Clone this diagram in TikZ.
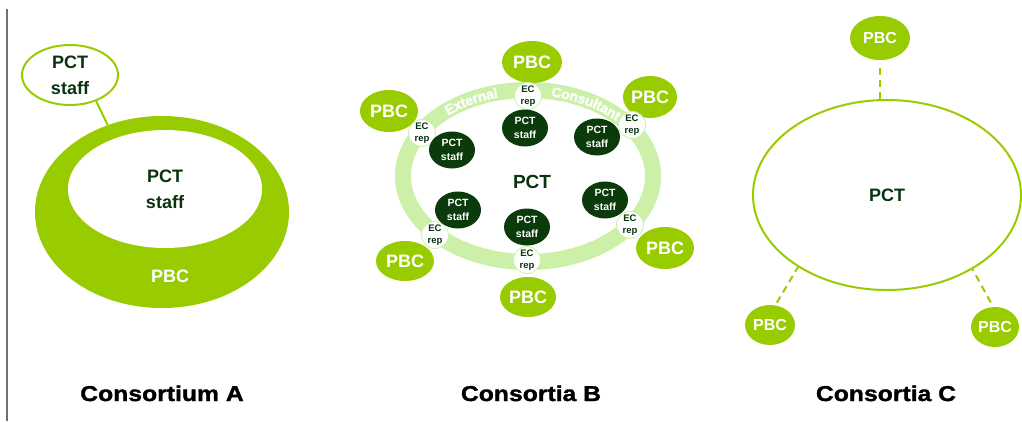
\documentclass[tikz,border=0pt]{standalone}
\usepackage{fontspec}
\setmainfont{Liberation Sans}
\newfontface\headfont[FakeBold=1.5,FakeStretch=1.15]{Liberation Sans Bold}
\newfontface\ringfont[FakeBold=1.2]{Liberation Sans Bold}
\usepackage{tikz}
\usetikzlibrary{positioning,shapes.geometric,calc,decorations.text}
\definecolor{green1}{HTML}{99CC00}
\definecolor{lime1}{HTML}{CCF0A8}
\definecolor{dark1}{HTML}{0B3A0B}
\definecolor{ink1}{HTML}{0A3310}
\definecolor{rule1}{HTML}{707070}

\begin{document}
\begin{tikzpicture}[
    x=1pt, y=-1pt,
    bubble/.style={ellipse, inner sep=0pt, fill=green1, text=white,
                   font=\bfseries\fontsize{18}{20}\selectfont},
    staffnode/.style={ellipse, inner sep=0pt, fill=dark1, text=white,
                      minimum width=46pt, minimum height=37pt, align=center,
                      font=\bfseries\fontsize{10.5}{13.5}\selectfont},
    ecrep/.style={circle, inner sep=0pt, minimum size=27pt, fill=white,
                  draw=lime1, line width=0.8pt, text=ink1, align=center,
                  font=\bfseries\fontsize{9.5}{11.5}\selectfont},
    outline/.style={ellipse, inner sep=0pt, draw=green1, line width=2pt,
                    fill=white, text=ink1, align=center,
                    font=\bfseries\fontsize{18}{26}\selectfont},
    link/.style={green1, line width=2pt, dash pattern=on 7pt off 5pt},
    heading/.style={anchor=base, font=\headfont\fontsize{21.5}{24}\selectfont},
    ringtext/.style={decorate, decoration={text along path,
                     text align=center, raise=-5pt}},
]
\useasboundingbox (0,0) rectangle (1022,421);
\draw[rule1, line width=1.5pt] (7,9) -- (7,421);

% Consortium A
\node[ellipse, fill=green1, minimum width=254pt, minimum height=192pt]
    (ringA) at (162,212) {};
\node[ellipse, fill=white, text=ink1, align=center,
      minimum width=194pt, minimum height=118pt,
      font=\bfseries\fontsize{18}{26}\selectfont]
    (coreA) at (165,189) {PCT\\staff};
\node[text=white, font=\bfseries\fontsize{18}{20}\selectfont]
    (pbcA) at (170,276) {PBC};
\node[outline, minimum width=96pt, minimum height=60pt]
    (staffA) at (70,75) {PCT\\staff};
\draw[green1, line width=2pt] (staffA.-45) -- (ringA.122);

% Consortia B
\coordinate (hubB) at (528,176);
\draw[lime1, line width=16pt] (hubB) ellipse [x radius=125, y radius=86];
\path[ringtext, decoration={text={|\color{white}\ringfont\fontsize{14}{14}\selectfont|External}}]
    ($(hubB)+(224:125 and 86)$) arc[start angle=224, end angle=260,
                                   x radius=125, y radius=86];
\path[ringtext, decoration={text={|\color{white}\ringfont\fontsize{14}{14}\selectfont|Consultant}}]
    ($(hubB)+(280:125 and 86)$) arc[start angle=280, end angle=318,
                                   x radius=125, y radius=86];
\node[text=ink1, font=\bfseries\fontsize{19}{20}\selectfont]
    (pctB) at (532,182) {PCT};

\node[bubble, minimum width=60pt, minimum height=42pt] (pbcB1) at (532,62) {PBC};
\node[bubble, minimum width=54pt, minimum height=42pt] (pbcB2) at (650,97) {PBC};
\node[bubble, minimum width=58pt, minimum height=42pt] (pbcB3) at (665,248) {PBC};
\node[bubble, minimum width=56pt, minimum height=40pt] (pbcB4) at (528,297) {PBC};
\node[bubble, minimum width=58pt, minimum height=40pt] (pbcB5) at (405,261) {PBC};
\node[bubble, minimum width=58pt, minimum height=42pt] (pbcB6) at (389,111) {PBC};

\node[ecrep] (ecB1) at (528,96) {EC\\rep};
\node[ecrep] (ecB2) at (632,125) {EC\\rep};
\node[ecrep] (ecB3) at (630,225) {EC\\rep};
\node[ecrep] (ecB4) at (527,260) {EC\\rep};
\node[ecrep] (ecB5) at (435,235) {EC\\rep};
\node[ecrep] (ecB6) at (422,133) {EC\\rep};

\node[staffnode] (staffB1) at (525,128) {PCT\\staff};
\node[staffnode] (staffB2) at (597,137) {PCT\\staff};
\node[staffnode] (staffB3) at (605,200) {PCT\\staff};
\node[staffnode] (staffB4) at (527,227) {PCT\\staff};
\node[staffnode] (staffB5) at (458,210) {PCT\\staff};
\node[staffnode] (staffB6) at (452,150) {PCT\\staff};

% Consortia C
\node[outline, fill=none, minimum width=268pt, minimum height=190pt]
    (pctC) at (887,195) {PCT};
\node[bubble, minimum width=60pt, minimum height=44pt,
      font=\bfseries\fontsize{16}{18}\selectfont] (pbcC1) at (880,38) {PBC};
\node[bubble, minimum width=50pt, minimum height=40pt,
      font=\bfseries\fontsize{16}{18}\selectfont] (pbcC2) at (770,325) {PBC};
\node[bubble, minimum width=48pt, minimum height=40pt,
      font=\bfseries\fontsize{16}{18}\selectfont] (pbcC3) at (995,327) {PBC};
\draw[link, shorten <=8pt] (pbcC1.south) -- (pbcC1.south |- pctC.north);
\draw[link, shorten <=3pt] (pbcC2.75) -- (pctC.219);
\draw[link, shorten <=5pt] (pbcC3.95) -- (pctC.-41);

% captions
\node[heading] (capA) at (162,401) {Consortium A};
\node[heading] (capB) at (531,401) {Consortia B};
\node[heading] (capC) at (886,401) {Consortia C};
\end{tikzpicture}
\end{document}
